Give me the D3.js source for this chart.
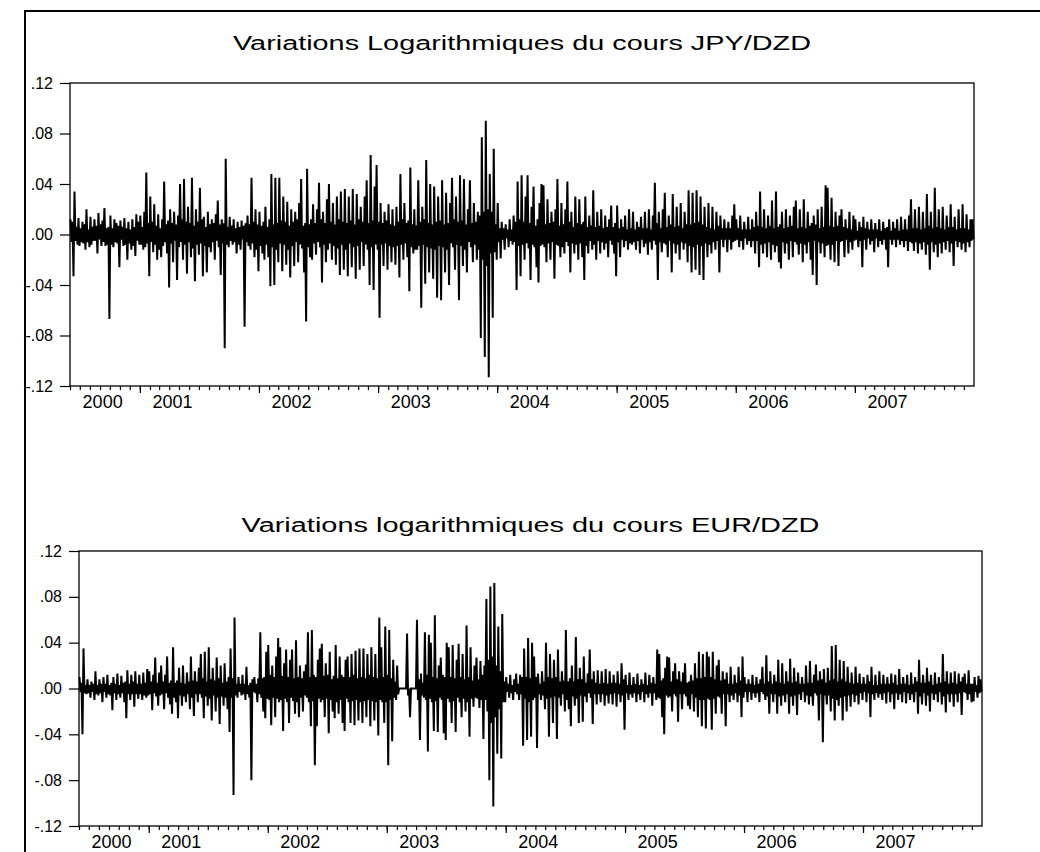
<!DOCTYPE html>
<html>
<head>
<meta charset="utf-8">
<script src="https://cdn.jsdelivr.net/npm/d3@7"></script>
<style>
  body { margin: 0; background: #fff; }
  svg text { font-family: "Liberation Sans", Arial, sans-serif; fill: #000; }
</style>
</head>
<body>
<svg id="chart" width="1040" height="852"></svg>
<script>
// Log returns, in thousandths (12 -> 0.012), one array per year
let jpy2000 = [12, -6, 10, -33, 34, -5, 6, -8, 13, -9, 5, -6, 10, -7, 8, -12, 20, -6, 4, -10, 14, -8, 6, -5, 12, -5, 7, -15, 17, -4, 8, -9, 11, -6, 21, -9, 5, -8, 6, -67, 15, -8, 5, -10, 12, -6, 9, -7, 7, -26, 11, -4, 6, -9, 13, -8, 5, -20, 10, -7, 4, -12, 12, -9, 6, -17, 16, -5, 10, -8];
let jpy2001 = [15, -8, 6, -12, 18, -10, 49, -7, 9, -33, 30, -6, 10, -14, 24, -8, 7, -20, 16, -12, 5, -18, 12, -9, 42, -6, 8, -15, 11, -42, 20, -7, 9, -22, 18, -5, 8, -36, 15, -10, 40, -6, 12, -20, 44, -8, 10, -31, 22, -6, 9, -18, 45, -11, 7, -37, 20, -8, 10, -16, 37, -7, 12, -33, 14, -9, 6, -30, 18, -10, 8, -14, 12, -6, 9, -20, 16, -5, 27, -10, 8, -32, 12, -7, 9, -90, 60, -8, 6, -10, 14, -5, 7, -8, 12, -6, 5, -15, 10, -8, 6, -12, 11, -4, 7, -73, 9, -6, 15, -9, 8, -12, 45, -7, 10, -18, 20, -12, 8, -29];
let jpy2002 = [18, -9, 7, -15, 10, -20, 22, -8, 6, -18, 12, -41, 48, -10, 8, -40, 45, -12, 9, -22, 45, -7, 11, -29, 30, -8, 10, -24, 26, -12, 7, -34, 20, -9, 10, -25, 18, -6, 12, -22, 25, -8, 44, -11, 7, -30, 9, -69, 52, -10, 8, -18, 12, -20, 24, -7, 9, -16, 20, -6, 41, -10, 12, -38, 18, -8, 9, -22, 28, -12, 40, -7, 10, -20, 25, -9, 8, -24, 30, -11, 12, -32, 34, -8, 10, -28, 36, -12, 9, -33, 30, -7, 11, -26, 36, -10, 8, -35, 32, -9, 12, -28, 22, -6, 10, -25, 30, -8, 43, -12, 9, -40, 63, -10, 11, -44, 38, -8, 55, -12];
let jpy2003 = [10, -66, 25, -8, 9, -25, 18, -7, 11, -28, 24, -9, 8, -22, 20, -10, 7, -24, 22, -9, 10, -34, 48, -8, 12, -20, 25, -7, 9, -18, 11, -45, 53, -10, 8, -15, 20, -12, 7, -12, 43, -9, 10, -58, 22, -8, 12, -39, 59, -10, 9, -30, 40, -11, 8, -35, 38, -12, 10, -50, 30, -9, 11, -52, 43, -10, 8, -30, 33, -12, 9, -40, 25, -7, 45, -10, 12, -28, 30, -8, 10, -52, 47, -9, 11, -25, 44, -12, 8, -30, 20, -6, 43, -10, 9, -22, 25, -8, 10, -20, 18, -12, 15, -82, 77, -20, 18, -97, 90, -25, 20, -113, 48, -15, 18, -66, 68, -14, 8, -20];
let jpy2004 = [25, -6, 5, -19, 10, -4, 5, -12, 8, -3, 4, -10, 12, -5, 4, -8, 15, -6, 10, -44, 42, -9, 12, -33, 47, -8, 10, -20, 30, -7, 47, -11, 9, -36, 22, -8, 38, -10, 7, -26, 12, -38, 25, -9, 40, -8, 39, -10, 8, -22, 28, -7, 9, -20, 18, -6, 10, -35, 20, -8, 44, -9, 7, -18, 25, -10, 8, -15, 20, -6, 42, -9, 10, -30, 18, -7, 6, -15, 30, -8, 9, -20, 28, -7, 8, -18, 10, -36, 30, -9, 6, -15, 15, -5, 7, -12, 35, -8, 6, -20, 18, -5, 7, -15, 20, -6, 5, -12, 15, -7, 6, -18, 12, -5, 23, -8, 6, -15, 9, -33];
let jpy2005 = [23, -6, 5, -18, 12, -4, 6, -10, 15, -5, 4, -12, 20, -7, 5, -8, 18, -6, 4, -12, 10, -5, 6, -15, 14, -4, 5, -10, 18, -7, 5, -16, 20, -6, 4, -12, 15, -5, 41, -8, 9, -36, 18, -6, 5, -14, 20, -7, 33, -8, 6, -18, 15, -5, 8, -30, 32, -7, 6, -15, 22, -8, 7, -20, 25, -6, 5, -12, 18, -7, 8, -22, 35, -9, 8, -30, 33, -10, 9, -28, 35, -8, 10, -32, 30, -9, 8, -36, 22, -7, 6, -18, 25, -8, 5, -15, 22, -6, 4, -12, 18, -5, 7, -30, 15, -4, 5, -10, 12, -4, 5, -14, 10, -4, 5, -12, 15, -6, 24, -5];
let jpy2006 = [12, -4, 5, -10, 15, -5, 4, -12, 10, -3, 4, -8, 14, -5, 4, -10, 12, -5, 6, -15, 18, -5, 7, -26, 34, -8, 6, -15, 20, -7, 5, -18, 15, -6, 7, -20, 27, -8, 5, -14, 34, -9, 6, -22, 8, -27, 18, -6, 5, -15, 20, -7, 6, -20, 15, -5, 7, -18, 22, -6, 27, -8, 5, -16, 20, -7, 6, -22, 28, -8, 5, -15, 18, -6, 7, -20, 9, -32, 15, -5, 8, -40, 20, -6, 5, -15, 22, -7, 6, -18, 39, -9, 37, -8, 7, -20, 29, -8, 6, -22, 18, -5, 7, -25, 15, -6, 20, -5, 6, -18, 12, -4, 5, -15, 18, -6, 4, -12, 15, -5];
let jpy2007 = [12, -4, 3, -10, 10, -5, 6, -26, 14, -4, 5, -12, 10, -3, 4, -8, 12, -5, 4, -14, 9, -3, 4, -10, 12, -5, 3, -8, 10, -4, 5, -12, 6, -26, 12, -4, 3, -8, 10, -4, 5, -10, 12, -4, 3, -8, 14, -5, 4, -10, 12, -5, 4, -13, 15, -6, 28, -7, 5, -13, 20, -6, 5, -15, 22, -7, 4, -12, 18, -6, 5, -16, 32, -8, 7, -28, 18, -6, 5, -14, 37, -8, 6, -18, 20, -7, 5, -15, 22, -6, 4, -12, 15, -5, 6, -14, 24, -7, 6, -25, 14, -5, 4, -10, 20, -6, 5, -12, 24, -7, 5, -14, 16, -6, 4, -10, 12, -5, 12, -4];

let eur2000 = [10, -3, 5, -40, 35, -4, 3, -5, 8, -4, 3, -8, 6, -3, 4, -10, 15, -5, 3, -6, 8, -4, 4, -12, 10, -3, 4, -8, 12, -5, 3, -6, 5, -19, 10, -4, 4, -10, 13, -5, 3, -8, 11, -4, 5, -12, 6, -26, 16, -5, 4, -10, 12, -5, 6, -16, 15, -5, 4, -9, 12, -5, 4, -10, 14, -6, 5, -8, 17, -6];
let eur2001 = [15, -5, 6, -19, 12, -4, 27, -7, 5, -15, 14, -6, 20, -5, 6, -18, 12, -4, 28, -8, 5, -14, 7, -22, 36, -8, 5, -12, 7, -26, 18, -6, 5, -15, 20, -7, 4, -12, 14, -5, 6, -18, 28, -8, 7, -24, 15, -5, 6, -12, 18, -5, 30, -8, 9, -26, 32, -7, 6, -15, 36, -9, 8, -28, 18, -6, 7, -20, 27, -8, 9, -31, 20, -7, 5, -15, 22, -8, 6, -18, 10, -38, 35, -8, 9, -93, 62, -6, 4, -8, 10, -3, 4, -6, 12, -5, 4, -10, 19, -5, 3, -8, 5, -80, 8, -3, 10, -4, 4, -12, 9, -5, 49, -8, 9, -20, 10, -26, 32, -9];
let eur2002 = [38, -10, 12, -32, 20, -8, 10, -25, 28, -9, 44, -12, 36, -10, 11, -37, 22, -9, 34, -12, 10, -30, 25, -8, 34, -11, 9, -22, 42, -12, 10, -25, 20, -8, 9, -20, 15, -6, 21, -8, 49, -12, 10, -33, 51, -11, 12, -67, 10, -33, 25, -9, 35, -12, 39, -10, 11, -25, 22, -9, 12, -39, 32, -10, 8, -20, 11, -26, 38, -12, 9, -22, 28, -10, 12, -30, 10, -37, 25, -9, 28, -12, 10, -30, 30, -11, 12, -32, 33, -10, 9, -28, 35, -12, 10, -30, 35, -11, 9, -25, 30, -10, 12, -33, 36, -11, 10, -28, 30, -12, 9, -41, 62, -10, 36, -12, 10, -30, 54, -12];
let eur2003 = [12, -67, 51, -10, 9, -46, 25, -8, 6, -10, 20, -5, 0, 0, 0, 0, 0, 0, 0, 0, 48, -6, 0, -25, 0, 0, 0, 0, 0, 0, 60, -10, 8, -45, 13, -6, 5, -8, 49, -10, 12, -55, 47, -9, 40, -12, 10, -37, 64, -11, 9, -38, 20, -8, 27, -10, 12, -39, 10, -45, 40, -9, 36, -12, 10, -30, 38, -11, 9, -38, 25, -8, 39, -12, 10, -25, 30, -9, 8, -20, 55, -12, 10, -42, 36, -9, 7, -16, 20, -8, 27, -9, 8, -17, 24, -10, 12, -44, 20, -10, 78, -20, 25, -80, 89, -30, 28, -103, 92, -25, 20, -57, 54, -18, 15, -61, 65, -12, 6, -12];
let eur2004 = [10, -3, 4, -8, 12, -4, 3, -10, 8, -3, 13, -5, 4, -10, 12, -5, 10, -50, 35, -9, 10, -45, 44, -12, 9, -42, 40, -10, 28, -8, 10, -52, 13, -5, 4, -10, 15, -6, 6, -18, 40, -9, 10, -42, 30, -8, 9, -30, 25, -7, 10, -44, 34, -8, 6, -15, 15, -5, 7, -20, 51, -10, 6, -18, 9, -33, 20, -7, 6, -15, 45, -9, 8, -30, 18, -6, 8, -29, 28, -7, 5, -12, 13, -4, 34, -8, 8, -31, 15, -5, 5, -14, 16, -5, 4, -12, 15, -5, 5, -15, 17, -6, 4, -13, 15, -5, 5, -14, 12, -4, 5, -16, 15, -5, 4, -12, 22, -6, 8, -36];
let eur2005 = [12, -4, 3, -10, 14, -5, 3, -8, 10, -4, 4, -12, 13, -5, 3, -10, 8, -3, 4, -12, 14, -5, 3, -8, 12, -4, 5, -15, 10, -4, 4, -10, 34, -8, 30, -9, 7, -25, 9, -40, 18, -6, 28, -8, 27, -7, 6, -20, 15, -5, 22, -7, 8, -29, 15, -5, 6, -18, 14, -5, 22, -7, 5, -15, 6, -18, 12, -5, 7, -20, 22, -8, 9, -25, 32, -10, 9, -33, 30, -10, 10, -35, 32, -9, 28, -10, 10, -36, 32, -9, 8, -22, 20, -7, 25, -8, 7, -22, 15, -5, 8, -33, 14, -5, 4, -12, 19, -6, 4, -10, 12, -4, 5, -12, 19, -6, 7, -25, 28, -8];
let eur2006 = [10, -3, 4, -12, 8, -3, 4, -10, 12, -4, 3, -8, 10, -4, 4, -12, 8, -3, 19, -5, 4, -10, 29, -7, 6, -22, 15, -5, 4, -12, 12, -5, 6, -22, 25, -7, 5, -15, 22, -6, 4, -12, 15, -5, 6, -22, 26, -7, 5, -15, 18, -6, 6, -23, 14, -5, 4, -10, 10, -3, 4, -12, 20, -6, 5, -14, 24, -7, 5, -15, 12, -4, 21, -6, 7, -28, 15, -5, 8, -47, 17, -6, 5, -14, 18, -6, 7, -20, 37, -9, 8, -28, 38, -10, 6, -15, 25, -8, 8, -28, 24, -7, 6, -20, 19, -6, 5, -16, 14, -5, 4, -12, 19, -6, 5, -14, 13, -4, 4, -10];
let eur2007 = [10, -3, 4, -12, 12, -4, 6, -25, 19, -5, 3, -10, 12, -4, 3, -8, 15, -5, 4, -10, 12, -4, 4, -13, 10, -3, 4, -12, 13, -5, 5, -18, 12, -4, 3, -10, 17, -5, 4, -12, 10, -3, 4, -13, 12, -4, 3, -10, 14, -5, 4, -12, 10, -3, 6, -22, 25, -7, 5, -14, 12, -4, 5, -15, 18, -6, 6, -20, 12, -4, 3, -10, 14, -5, 4, -12, 10, -3, 5, -14, 30, -7, 6, -21, 15, -5, 4, -12, 14, -5, 5, -16, 15, -5, 4, -12, 13, -4, 6, -23, 10, -3, 13, -4, 4, -10, 16, -5, 4, -12, 4, -11, 10, -3, 3, -8, 11, -4, 8, -3];

let years = [2000, 2001, 2002, 2003, 2004, 2005, 2006, 2007];
let jpyByYear = [jpy2000, jpy2001, jpy2002, jpy2003, jpy2004, jpy2005, jpy2006, jpy2007];
let eurByYear = [eur2000, eur2001, eur2002, eur2003, eur2004, eur2005, eur2006, eur2007];
let yTicks = [-0.12, -0.08, -0.04, 0, 0.04, 0.08, 0.12];

// Sample covers June 2000 to the end of 2007
let startDate = new Date(2000, 5, 1);
let endDate = new Date(2008, 0, 1);

// Spread each year's observations evenly over the part of the year in the sample
let buildSeries = (byYear) => {
    let points = [];
    years.forEach((year, k) => {
        let values = byYear[k];
        let t0 = Math.max(+new Date(year, 0, 1), +startDate);
        let t1 = Math.min(+new Date(year + 1, 0, 1), +endDate);
        values.forEach((v, i) => {
            points.push({ date: new Date(t0 + (i + 0.5) * (t1 - t0) / values.length), value: v / 1000 });
        });
    });
    return points;
};

let fmtY = (d) => (d < 0 ? '-' : '') + d3.format('.2f')(Math.abs(d)).replace(/^0/, '');

let svg = d3.select('#chart');

// Outer frame (left and top edges only)
svg.append('path')
    .attr('d', 'M25,852V11H1040')
    .attr('fill', 'none')
    .attr('stroke', '#000')
    .attr('stroke-width', 2);

let drawPanel = (p) => {
    let x = d3.scaleTime().domain([startDate, endDate]).range([p.left, p.right]);
    let y = d3.scaleLinear().domain([-0.12, 0.12]).range([p.bottom, p.top]);

    // Title
    svg.append('text')
        .attr('x', (p.left + p.right) / 2)
        .attr('y', p.titleY)
        .attr('text-anchor', 'middle')
        .attr('textLength', 578)
        .attr('lengthAdjust', 'spacingAndGlyphs')
        .style('font-size', '20px')
        .text(p.title);

    // Y axis
    let yAxis = svg.append('g')
        .attr('transform', `translate(${p.left},0)`)
        .call(d3.axisLeft(y).tickValues(yTicks).tickSize(10).tickPadding(7).tickFormat(fmtY));
    yAxis.select('.domain').remove();
    yAxis.selectAll('text').style('font-size', '16px').attr('font-family', null);

    // X axis: monthly minor ticks, yearly major ticks
    let minor = svg.append('g')
        .attr('transform', `translate(0,${p.bottom})`)
        .call(d3.axisBottom(x).tickValues(d3.timeMonth.range(startDate, endDate)).tickSize(4).tickFormat(''));
    minor.select('.domain').remove();

    let major = svg.append('g')
        .attr('transform', `translate(0,${p.bottom})`)
        .call(d3.axisBottom(x).tickValues(d3.timeYear.range(new Date(2001, 0, 1), endDate)).tickSize(7).tickFormat(''));
    major.select('.domain').remove();
    svg.selectAll('.tick line').attr('stroke-width', 1.2);

    // Year labels, set a little after the first observation of each year
    svg.append('g')
        .selectAll('text')
        .data(years)
        .enter()
        .append('text')
        .attr('x', (yr) => x(d3.timeDay.offset(new Date(Math.max(+new Date(yr, 0, 1), +startDate)), 100)))
        .attr('y', p.bottom + 22)
        .attr('text-anchor', 'middle')
        .style('font-size', '18px')
        .text((yr) => String(yr));

    // Series
    let line = d3.line()
        .x((d) => x(d.date))
        .y((d) => y(d.value));

    svg.append('path')
        .datum(p.series)
        .attr('fill', 'none')
        .attr('stroke', '#000')
        .attr('stroke-width', 2)
        .attr('d', line);

    // Plot frame
    svg.append('rect')
        .attr('x', p.left)
        .attr('y', p.top)
        .attr('width', p.right - p.left)
        .attr('height', p.bottom - p.top)
        .attr('fill', 'none')
        .attr('stroke', '#000')
        .attr('stroke-width', 1.3);
};

drawPanel({
    series: buildSeries(jpyByYear),
    title: 'Variations Logarithmiques du cours JPY/DZD',
    left: 70, right: 974, top: 83, bottom: 386, titleY: 50
});

drawPanel({
    series: buildSeries(eurByYear),
    title: 'Variations logarithmiques du cours EUR/DZD',
    left: 79, right: 982, top: 551, bottom: 826, titleY: 532
});
</script>
</body>
</html>
